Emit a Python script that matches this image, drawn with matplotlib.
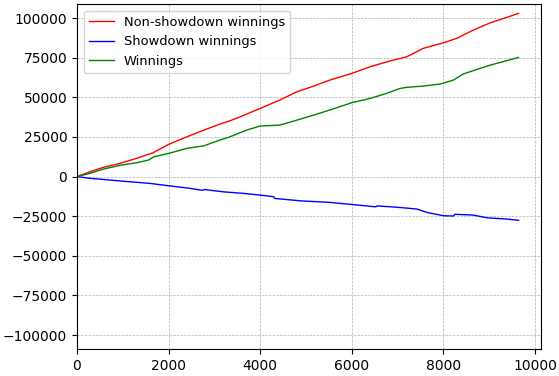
import numpy as np
import matplotlib
matplotlib.use("Agg")
import matplotlib.pyplot as plt

# Cumulative results vs. hands played
nsd_hands = [0, 280, 575, 940, 1300, 1660, 2000, 2400, 2770, 3120, 3340, 3560, 4000, 4430,
             4800, 5170, 5520, 6000, 6400, 6830, 7200, 7560, 8000, 8290, 8650, 9020, 9380, 9640]
nsd_winnings = [0, 3000, 5800, 8300, 11500, 15000, 20300, 25100, 29300, 33100, 35200, 37700,
                43000, 48300, 53500, 57100, 60900, 65100, 69300, 72900, 75600, 80900, 84400,
                87200, 92400, 97000, 100400, 103000]

sd_hands = [0, 280, 720, 1160, 1590, 2000, 2460, 2740, 2780, 3190, 3630, 4000, 4290, 4320,
            4870, 5520, 6000, 6520, 6560, 7050, 7420, 7640, 8000, 8220, 8250, 8650, 8950,
            9380, 9640]
sd_winnings = [0, -1100, -2200, -3300, -4300, -5800, -7400, -8700, -8200, -9600, -10600,
               -11700, -12700, -13800, -15300, -16300, -17600, -19100, -18500, -19500, -20500,
               -22600, -24700, -24900, -23800, -24300, -26000, -26800, -27600]

win_hands = [0, 280, 575, 940, 1300, 1560, 1680, 2000, 2400, 2770, 3120, 3340, 3700, 4000,
             4430, 4800, 5170, 5520, 6000, 6400, 6760, 7050, 7200, 7560, 7930, 8220, 8430,
             8730, 9020, 9380, 9640]
winnings = [0, 2000, 4700, 7100, 8700, 10400, 12500, 14600, 17800, 19400, 23000, 25100, 29300,
            31900, 32500, 35600, 38800, 42000, 46600, 49300, 52500, 55600, 56300, 57100, 58400,
            60900, 64700, 67600, 70300, 73100, 75200]

fig, ax = plt.subplots(figsize=(5.59, 3.76), dpi=100)
fig.subplots_adjust(left=0.1377, right=0.9678, top=0.989, bottom=0.0718)

ax.plot(nsd_hands, nsd_winnings, color='red', linewidth=1, label='Non-showdown winnings')
ax.plot(sd_hands, sd_winnings, color='blue', linewidth=1, label='Showdown winnings')
ax.plot(win_hands, winnings, color='green', linewidth=1, label='Winnings')

lim = 108800
ax.set_ylim(-lim, lim)
ax.set_xlim(0, 10130)
ax.set_yticks(np.arange(-100000, 100001, 25000))
ax.grid(True, linestyle='--', linewidth=0.5, color='#b0b0b0')
ax.legend(loc='upper left', fontsize=9.4, handlelength=1.9)

fig.savefig("out.png", dpi=100)
